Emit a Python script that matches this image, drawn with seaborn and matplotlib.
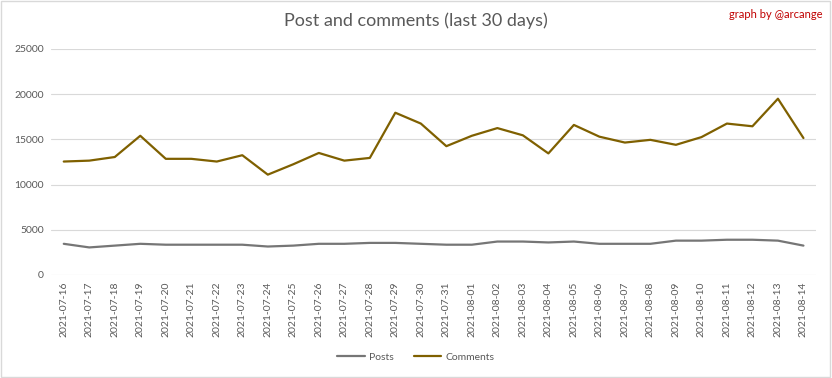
import matplotlib
matplotlib.use("Agg")
import matplotlib.pyplot as plt
import seaborn as sns
import pandas as pd
from matplotlib.patches import Rectangle

dates = ["2021-07-16", "2021-07-17", "2021-07-18", "2021-07-19", "2021-07-20", "2021-07-21",
         "2021-07-22", "2021-07-23", "2021-07-24", "2021-07-25", "2021-07-26", "2021-07-27",
         "2021-07-28", "2021-07-29", "2021-07-30", "2021-07-31", "2021-08-01", "2021-08-02",
         "2021-08-03", "2021-08-04", "2021-08-05", "2021-08-06", "2021-08-07", "2021-08-08",
         "2021-08-09", "2021-08-10", "2021-08-11", "2021-08-12", "2021-08-13", "2021-08-14"]
posts = [3450, 3050, 3250, 3450, 3350, 3350, 3350, 3350, 3150, 3250, 3450, 3450,
         3550, 3550, 3450, 3350, 3350, 3700, 3700, 3600, 3700, 3450, 3450, 3450,
         3800, 3800, 3900, 3900, 3800, 3250]
comments = [12550, 12650, 13050, 15400, 12850, 12850, 12550, 13250, 11100, 12250, 13500, 12650,
            12950, 17950, 16750, 14250, 15400, 16250, 15450, 13450, 16600, 15300, 14650, 14950,
            14400, 15250, 16750, 16450, 19500, 15150]
series_names = ["Posts", "Comments"]
colors = {"Posts": "#767676", "Comments": "#7F6000"}

df = pd.DataFrame({
    "idx": list(range(len(dates))) * 2,
    "value": posts + comments,
    "series": ["Posts"] * len(dates) + ["Comments"] * len(dates),
})

sns.set_theme(style="white")
plt.rcParams["font.family"] = ["Lato", "DejaVu Sans"]

fig = plt.figure(figsize=(8.32, 3.78), dpi=100)
ax = fig.add_axes([0.0613, 0.2725, 0.9197, 0.5979])

sns.lineplot(data=df, x="idx", y="value", hue="series", hue_order=series_names,
             palette=colors, linewidth=1.6, ax=ax, legend=False)

ax.set_xlim(-0.5, len(dates) - 0.5)
ax.set_ylim(0, 25000)
ax.set_yticks([0, 5000, 10000, 15000, 20000, 25000])
ax.set_yticklabels(["0", "5000", "10000", "15000", "20000", "25000"], fontsize=7.5, color="#595959")
ax.set_xticks(range(len(dates)))
ax.set_xticklabels(dates, rotation=90, fontsize=7.5, color="#595959")
ax.tick_params(axis="both", length=0, pad=5)
ax.set_xlabel("")
ax.set_ylabel("")
ax.grid(axis="y", color="#D9D9D9", linewidth=0.8)
ax.set_axisbelow(True)
for s in ax.spines.values():
    s.set_visible(False)

fig.text(0.5, 0.945, "Post and comments (last 30 days)", ha="center", va="center",
         fontsize=13, color="#595959")
fig.text(0.988, 0.962, "graph by @arcange", ha="right", va="center",
         fontsize=8, color="#C00000")

from matplotlib.lines import Line2D
handles = [Line2D([0], [0], color=colors[n], linewidth=1.6) for n in series_names]
fig.legend(handles, series_names, loc="center", bbox_to_anchor=(0.5, 0.055), ncol=2,
           frameon=False, fontsize=7.5, handlelength=2.6, handletextpad=0.4,
           columnspacing=2.0, labelcolor="#595959")

fig.patches.append(Rectangle((0.001, 0.002), 0.997, 0.995, transform=fig.transFigure,
                             fill=False, edgecolor="#D9D9D9", linewidth=1))

fig.savefig("out.png", dpi=100)
